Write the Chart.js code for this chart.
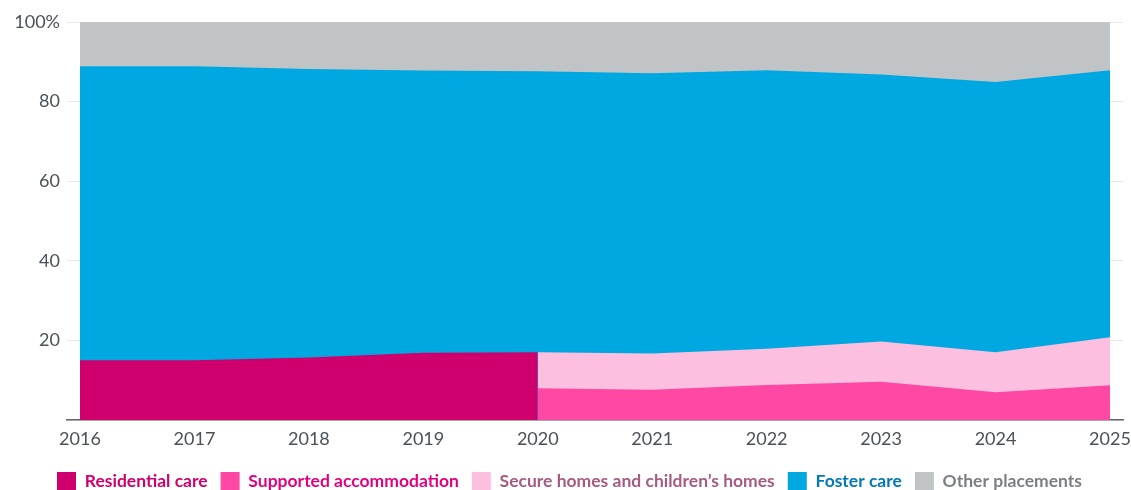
<!DOCTYPE html>
<html>
<head>
<meta charset="utf-8">
<title>Placements of children in care, 2016–2025</title>
<script src="https://cdn.jsdelivr.net/npm/chart.js@4.4.1/dist/chart.umd.min.js"></script>
<style>
  html, body { margin: 0; padding: 0; background: #ffffff; overflow: hidden; }
  #wrap { position: relative; width: 1131px; height: 501px; }
</style>
</head>
<body>
<div id="wrap"><canvas id="chart"></canvas></div>
<script>
// Share of placements by type, percent of all children in care
const years = [2016, 2017, 2018, 2019, 2020, 2021, 2022, 2023, 2024, 2025];
const residentialCare = [15, 15, 15.7, 16.9, 17, null, null, null, null, null];
const supportedAccommodation = [null, null, null, null, 8, 7.6, 8.8, 9.6, 7, 8.7];
const secureAndChildrensHomes = [null, null, null, null, 9, 9.1, 9.1, 10.1, 10, 12.1];
const fosterCare = [73.9, 73.9, 72.5, 70.9, 70.6, 70.4, 70, 67.1, 67.9, 67.1];
const otherPlacements = [11.1, 11.1, 11.8, 12.2, 12.4, 12.9, 12.1, 13.2, 15.1, 12.1];

const yTicks = [0, 20, 40, 60, 80, 100];

const seriesNames = [
  'Residential care',
  'Supported accommodation',
  'Secure homes and children\u2019s homes',
  'Foster care',
  'Other placements'
];
const fillColors = ['#cf006e', '#ff48a4', '#fdbfdf', '#00a8e1', '#c1c4c7'];
const textColors = ['#cf006e', '#e3007f', '#a65b80', '#0079b4', '#7b7f84'];

// Running totals so each band can be filled down to the axis and layered
const add = (a, b) => (a == null || b == null) ? null : a + b;
const supportedTop = supportedAccommodation.slice();
const secureTop = supportedAccommodation.map((v, i) => add(v, secureAndChildrensHomes[i]));
const lowerBase = years.map((_, i) => residentialCare[i] != null && secureTop[i] == null
  ? residentialCare[i]
  : secureTop[i]);
const fosterTop = lowerBase.map((v, i) => add(v, fosterCare[i]));
const otherTop = fosterTop.map((v, i) => add(v, otherPlacements[i]));

const toPoints = arr => years.map((x, i) => ({ x, y: arr[i] }));

const bandTops = [residentialCare, supportedTop, secureTop, fosterTop, otherTop];

const datasets = bandTops.map((arr, k) => ({
  label: seriesNames[k],
  data: toPoints(arr),
  backgroundColor: fillColors[k],
  borderColor: fillColors[k],
  borderWidth: 0,
  pointRadius: 0,
  pointHoverRadius: 0,
  tension: 0,
  spanGaps: false,
  fill: 'origin'
}));

const edgePad = 0.1136;

new Chart(document.getElementById('chart'), {
  type: 'line',
  data: { datasets },
  options: {
    responsive: true,
    maintainAspectRatio: false,
    animation: false,
    events: [],
    layout: { padding: { top: 22, right: 8, left: 16, bottom: 0 } },
    plugins: {
      tooltip: { enabled: false },
      legend: {
        position: 'bottom',
        align: 'center',
        labels: {
          boxWidth: 19,
          boxHeight: 19,
          padding: 13,
          font: { family: 'Lato', size: 17.5, weight: 'bold' },
          generateLabels: chart => chart.data.datasets.map((ds, i) => ({
            text: ds.label,
            fillStyle: fillColors[i],
            strokeStyle: fillColors[i],
            lineWidth: 0,
            fontColor: textColors[i],
            hidden: false,
            datasetIndex: i
          }))
        }
      }
    },
    scales: {
      x: {
        type: 'linear',
        min: years[0] - edgePad,
        max: years[years.length - 1] + edgePad,
        grid: { display: false, drawTicks: false },
        border: { display: true, color: '#62676c', width: 1.5 },
        ticks: {
          stepSize: 1,
          includeBounds: false,
          autoSkip: false,
          maxRotation: 0,
          padding: 8,
          color: '#4b5158',
          font: { family: 'Lato', size: 18 },
          callback: v => String(v)
        },
        afterFit: scale => {
          scale.height = 39;
          scale.paddingLeft = 0;
          scale.paddingRight = 0;
        }
      },
      y: {
        min: 0,
        max: 100,
        afterBuildTicks: scale => { scale.ticks = yTicks.map(v => ({ value: v })); },
        grid: { color: '#e7e7e7', lineWidth: 1, drawTicks: false },
        border: { display: false },
        ticks: {
          padding: 7,
          color: '#4b5158',
          font: { family: 'Lato', size: 18 },
          callback: v => v === 0 ? '' : (v === 100 ? '100%' : String(v))
        },
        afterFit: scale => { scale.width = 51; }
      }
    }
  }
});
</script>
</body>
</html>
